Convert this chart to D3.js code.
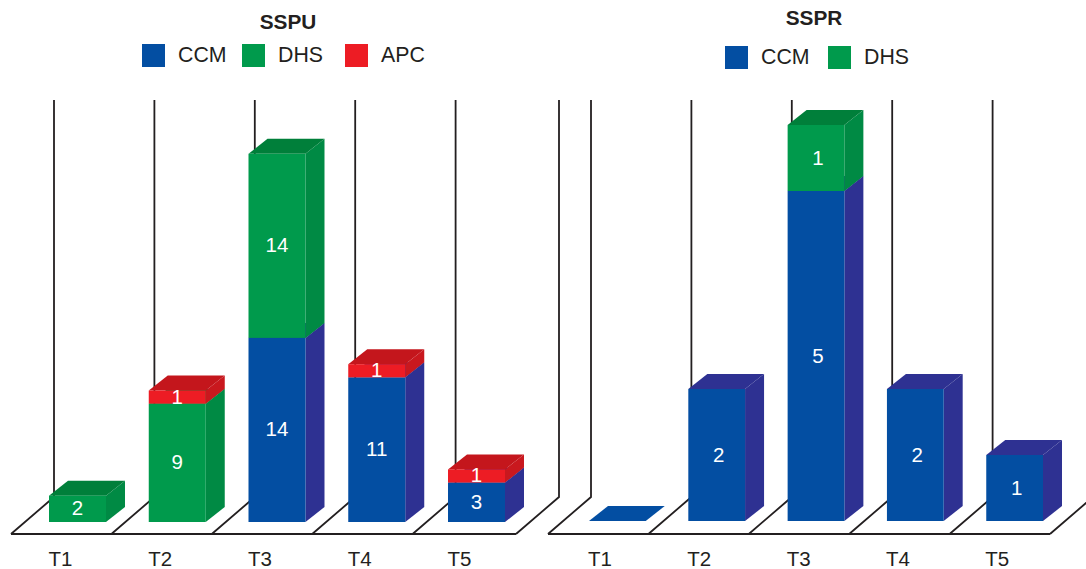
<!DOCTYPE html>
<html>
<head>
<meta charset="utf-8">
<script src="https://cdn.jsdelivr.net/npm/d3@7"></script>
<style>
  html, body { margin: 0; padding: 0; background: #fff; overflow: hidden; }
  text { font-family: "Liberation Sans", Arial, sans-serif; }
</style>
</head>
<body>
<svg id="chart" width="1086" height="569"></svg>
<script>
//Dati
const periods = ["T1", "T2", "T3", "T4", "T5"];

const sspuCCM = [0, 0, 14, 11, 3];
const sspuDHS = [2, 9, 14, 0, 0];
const sspuAPC = [0, 1, 0, 1, 1];

const ssprCCM = [0, 2, 5, 2, 1];
const ssprDHS = [0, 0, 1, 0, 0];

const COLORS = {
  CCM: { front: "#034ea2", side: "#2e3192", top: "#2e3192" },
  DHS: { front: "#009a4c", side: "#008a44", top: "#007f3a" },
  APC: { front: "#ed1c24", side: "#c9181e", top: "#c4161c" }
};

const INK = "#231f20";
const depthX = 19, depthY = 15;   //profondita delle barre
const wallX = 43, wallY = 37;     //profondita del pavimento
const floorY = 534, wallTop = 100;

const svg = d3.select("#chart");

function table(series) {
  return periods.map((p, i) => {
    const row = { period: p };
    Object.keys(series).forEach(k => { row[k] = series[k][i]; });
    return row;
  });
}

function drawPanel(o) {
  const keys = Object.keys(o.series);
  const rows = table(o.series);
  const stacked = d3.stack().keys(keys)(rows);

  const g = svg.append("g");

  //Pavimento e pareti
  const floorX = d3.scaleBand().domain(periods).range([o.floor[0], o.floor[0] + 502]);
  const corners = periods.map(p => floorX(p)).concat(o.floor[1]);

  g.selectAll("path.wall")
    .data(corners)
    .join("path")
    .attr("class", "wall")
    .attr("fill", "none")
    .attr("stroke", INK)
    .attr("stroke-width", 1.8)
    .attr("d", d => `M${d},${floorY}L${d + wallX},${floorY - wallY}V${wallTop}`);

  g.append("line")
    .attr("x1", o.floor[0]).attr("x2", o.floor[1])
    .attr("y1", floorY).attr("y2", floorY)
    .attr("stroke", INK).attr("stroke-width", 1.8);

  const x = d3.scaleBand()
    .domain(periods)
    .range(o.barRange)
    .paddingInner(0.4286)
    .paddingOuter(0);
  const y = d3.scaleLinear().domain(o.domain).range(o.yRange);
  const w = x.bandwidth();

  //Barre impilate dal basso verso l'alto
  stacked.forEach(layer => {
    const c = COLORS[layer.key];
    const segs = layer.filter(d => d[1] > d[0]);

    const bar = g.selectAll(null).data(segs).join("g");

    bar.append("path")
      .attr("fill", c.side)
      .attr("d", d => {
        const xr = x(d.data.period) + w;
        return `M${xr},${y(d[1])}l${depthX},${-depthY}V${y(d[0]) - depthY}l${-depthX},${depthY}Z`;
      });

    bar.append("path")
      .attr("fill", c.top)
      .attr("d", d => {
        const xl = x(d.data.period);
        return `M${xl},${y(d[1])}l${depthX},${-depthY}h${w}l${-depthX},${depthY}Z`;
      });

    bar.append("rect")
      .attr("x", d => x(d.data.period))
      .attr("y", d => y(d[1]))
      .attr("width", w)
      .attr("height", d => y(d[0]) - y(d[1]))
      .attr("fill", c.front);

    bar.append("text")
      .attr("x", d => x(d.data.period) + w / 2 + o.valueShift)
      .attr("y", d => (y(d[0]) + y(d[1])) / 2 + 6.5)
      .attr("text-anchor", "middle")
      .attr("font-size", 20.5)
      .attr("fill", "#fff")
      .text(d => d[1] - d[0]);
  });

  //Periodo senza valori: solo la base piatta
  rows.filter(r => d3.sum(keys, k => r[k]) === 0).forEach(r => {
    const xl = x(r.period);
    g.append("path")
      .attr("fill", COLORS.CCM.front)
      .attr("d", `M${xl},${y(0)}l${depthX},${-depthY}h${w}l${-depthX},${depthY}Z`);
  });

  //Etichette dei periodi
  g.selectAll("text.period")
    .data(periods)
    .join("text")
    .attr("class", "period")
    .attr("x", d => x(d) + o.labelShift)
    .attr("y", 566)
    .attr("text-anchor", "middle")
    .attr("font-size", 20.5)
    .attr("fill", INK)
    .text(d => d);

  //Titolo e legenda
  g.append("text")
    .attr("x", o.title[0]).attr("y", o.title[1])
    .attr("text-anchor", "middle")
    .attr("font-size", 20.8)
    .attr("font-weight", "bold")
    .attr("fill", INK)
    .text(o.name);

  const item = g.selectAll("g.legend")
    .data(keys)
    .join("g")
    .attr("class", "legend")
    .attr("transform", (d, i) => `translate(${o.legendX[i]},${o.legendY})`);

  item.append("rect")
    .attr("width", 23).attr("height", 23)
    .attr("fill", d => COLORS[d].front);

  item.append("text")
    .attr("x", 36).attr("y", 18)
    .attr("font-size", 21.3)
    .attr("fill", INK)
    .text(d => d);
}

drawPanel({
  name: "SSPU",
  series: { CCM: sspuCCM, DHS: sspuDHS, APC: sspuAPC },
  domain: [0, 30],
  yRange: [522, 127.5],
  barRange: [49, 505],
  floor: [11, 516],
  labelShift: 11.5,
  valueShift: 0,
  title: [288, 29],
  legendX: [142, 242, 345],
  legendY: 44
});

drawPanel({
  name: "SSPR",
  series: { CCM: ssprCCM, DHS: ssprDHS },
  domain: [0, 6],
  yRange: [521, 125],
  barRange: [589, 1043],
  floor: [548, 1050],
  labelShift: 11,
  valueShift: 2,
  title: [814, 25],
  legendX: [725, 828],
  legendY: 46
});
</script>
</body>
</html>
